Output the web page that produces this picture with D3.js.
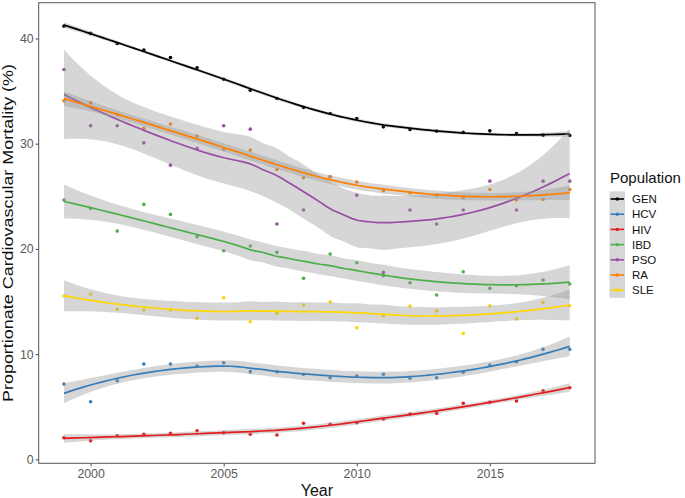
<!DOCTYPE html>
<html><head><meta charset="utf-8">
<script src="https://cdn.jsdelivr.net/npm/d3@7"></script>
<style>
body{margin:0;background:#fff;}
text{font-family:"Liberation Sans",Arial,Helvetica,sans-serif;}
</style>
</head><body>
<svg id="chart" width="685" height="498"></svg>
<script>
// ---------------- data ----------------
const years = [1999,2000,2001,2002,2003,2004,2005,2006,2007,2008,2009,2010,2011,2012,2013,2014,2015,2016,2017,2018];
const seriesNames  = ["GEN","HCV","HIV","IBD","PSO","RA","SLE"];
const seriesColors = ["#000000","#377EB8","#E41A1C","#4DAF4A","#984EA3","#FF7F00","#FFD700"];
const GEN = [41.17,40.48,39.52,38.89,38.19,37.21,36.13,35.09,34.30,33.44,32.87,32.40,31.60,31.35,31.19,31.07,31.22,30.97,30.81,30.78];
const HCV = [7.15,5.47,7.47,9.05,9.05,8.86,9.18,8.33,8.33,8.08,7.75,7.91,8.08,7.70,7.75,8.27,8.96,9.27,10.45,10.45];
const HIV = [2.05,1.77,2.24,2.38,2.47,2.72,2.53,2.38,2.31,3.42,3.33,3.48,3.83,4.30,4.37,5.32,5.42,5.54,6.52,6.80];
const IBD = [24.64,23.85,21.69,24.23,23.28,21.15,19.82,20.27,19.67,17.20,19.51,18.68,17.44,16.78,15.61,17.82,16.25,16.49,17.04,16.66];
const PSO = [37.05,31.70,31.70,30.08,27.96,29.55,31.70,31.38,22.36,23.69,26.85,25.11,17.77,23.69,22.36,23.69,26.44,23.69,26.44,26.44];
const RA  = [34.07,33.88,32.80,31.45,31.86,30.72,29.46,29.39,27.55,26.76,26.85,26.35,25.52,25.33,25.11,24.86,25.65,24.64,24.70,25.65];
const SLE = [15.52,15.71,14.25,14.19,14.19,13.40,15.35,13.07,13.87,14.66,14.97,12.50,13.62,14.57,14.09,11.97,14.59,13.33,14.92,14.59];
const seriesValues = [GEN,HCV,HIV,IBD,PSO,RA,SLE];
const xTicks = [2000,2005,2010,2015];
const yTicks = [0,10,20,30,40];
const xTitle = "Year";
const yTitle = "Proportionate Cardiovascular Mortality (%)";
const legendTitle = "Population";

// ---------------- loess (degree 2, span 0.75, like ggplot geom_smooth) ----------------
function inv3(m){
  const [a,b,c]=m[0],[d,e,f]=m[1],[g,h,i]=m[2];
  const A=e*i-f*h,B=-(d*i-f*g),C=d*h-e*g;
  const det=a*A+b*B+c*C;
  return [[A/det,-(b*i-c*h)/det,(b*f-c*e)/det],
          [B/det,(a*i-c*g)/det,-(a*f-c*d)/det],
          [C/det,-(a*h-b*g)/det,(a*e-b*d)/det]];
}
function loessRow(xs,x0,span){
  const n=xs.length,q=Math.floor(n*span);
  const d=xs.map(x=>Math.abs(x-x0));
  const h=d.slice().sort((a,b)=>a-b)[q-1];
  const w=d.map(v=>{const u=v/h;return u<1?Math.pow(1-u*u*u,3):0;});
  const A=[[0,0,0],[0,0,0],[0,0,0]];
  xs.forEach((x,k)=>{const t=x-x0,r=[1,t,t*t];
    for(let i=0;i<3;i++)for(let j=0;j<3;j++)A[i][j]+=w[k]*r[i]*r[j];});
  const Ai=inv3(A);
  return xs.map((x,k)=>{const t=x-x0;return w[k]*(Ai[0][0]+Ai[0][1]*t+Ai[0][2]*t*t);});
}
function qt975(df){
  const z=1.959963985,z3=z*z*z,z5=z3*z*z,z7=z5*z*z,z9=z7*z*z;
  return z+(z3+z)/4/df+(5*z5+16*z3+3*z)/96/(df*df)
    +(3*z7+19*z5+17*z3-15*z)/384/(df*df*df)
    +(79*z9+776*z7+1482*z5-1920*z3-945*z)/92160/(df*df*df*df);
}
function smooth(xs,ys,span){
  const n=xs.length;
  const L=xs.map(x0=>loessRow(xs,x0,span));
  const fit=L.map(r=>d3.sum(r,(v,k)=>v*ys[k]));
  const rss=d3.sum(ys,(y,k)=>(y-fit[k])**2);
  const IL=L.map((r,i)=>r.map((v,j)=>(i===j?1:0)-v));
  const M=[];
  for(let i=0;i<n;i++){M.push([]);for(let j=0;j<n;j++){let s=0;for(let k=0;k<n;k++)s+=IL[k][i]*IL[k][j];M[i].push(s);}}
  let d1=0,d2=0;
  for(let i=0;i<n;i++){d1+=M[i][i];for(let j=0;j<n;j++)d2+=M[i][j]*M[i][j];}
  const s=Math.sqrt(rss/d1),df=d1*d1/d2,tq=qt975(df);
  const grid=d3.range(80).map(i=>xs[0]+(xs[n-1]-xs[0])*i/79);
  return grid.map(x0=>{const r=loessRow(xs,x0,span);
    const f=d3.sum(r,(v,k)=>v*ys[k]);const se=s*Math.sqrt(d3.sum(r,v=>v*v));
    return {x:x0,y:f,lo:f-tq*se,hi:f+tq*se};});
}

// ---------------- layout ----------------
const svg=d3.select("#chart");
const P={l:38.7,r:595,t:2.7,b:463.3};
const x=d3.scaleLinear().domain([1999-0.95,2018+0.95]).range([P.l,P.r]);
const y=d3.scaleLinear().domain([-0.38,43.4]).range([P.b,P.t]);

const ribbonFill="#999999",ribbonOpacity=0.4;

// points
const gPts=svg.append("g");
seriesNames.forEach((name,si)=>{
  gPts.selectAll(null).data(seriesValues[si]).join("circle")
    .attr("cx",(v,i)=>x(years[i])).attr("cy",v=>y(v)).attr("r",1.8)
    .attr("fill",seriesColors[si]);
});
// smooths
const area=d3.area().x(d=>x(d.x)).y0(d=>y(d.lo)).y1(d=>y(d.hi));
const line=d3.line().x(d=>x(d.x)).y(d=>y(d.y));
seriesNames.forEach((name,si)=>{
  const sm=smooth(years,seriesValues[si],0.75);
  svg.append("path").attr("d",area(sm)).attr("fill",ribbonFill).attr("fill-opacity",ribbonOpacity);
  svg.append("path").attr("d",line(sm)).attr("fill","none").attr("stroke",seriesColors[si]).attr("stroke-width",1.7);
});

// panel border
svg.append("rect").attr("x",P.l).attr("y",P.t).attr("width",P.r-P.l).attr("height",P.b-P.t)
  .attr("fill","none").attr("stroke","#555").attr("stroke-width",1);

// axes
const ax=svg.append("g").attr("transform",`translate(0,${P.b})`)
  .call(d3.axisBottom(x).tickValues(xTicks).tickFormat(d3.format("d")).tickSize(3).tickPadding(3));
const ay=svg.append("g").attr("transform",`translate(${P.l},0)`)
  .call(d3.axisLeft(y).tickValues(yTicks).tickSize(3).tickPadding(2));
[ax,ay].forEach(g=>{g.select(".domain").remove();
  g.selectAll(".tick line").attr("stroke","#444");
  g.selectAll(".tick text").attr("fill","#595959").attr("font-size","12.3px")
    .attr("font-family","Liberation Sans, Arial, sans-serif");});

// titles
svg.append("text").attr("x",(P.l+P.r)/2).attr("y",495.5).attr("text-anchor","middle")
  .attr("font-size","16px").attr("fill","#111").text(xTitle);
svg.append("text").attr("transform",`translate(13,${(P.t+P.b)/2}) rotate(-90)`)
  .attr("text-anchor","middle").attr("font-size","15px").attr("fill","#111")
  .attr("textLength",338).attr("lengthAdjust","spacingAndGlyphs").text(yTitle);

// legend
const lg=svg.append("g");
lg.append("text").attr("x",610).attr("y",183).attr("font-size","15px").attr("fill","#111").text(legendTitle);
const k0=199,kh=15.2,kx=609.5,kw=15.5;
seriesNames.forEach((name,si)=>{
  const cy=k0+si*kh;
  lg.append("rect").attr("x",kx).attr("y",cy-kh/2).attr("width",kw).attr("height",kh)
    .attr("fill",ribbonFill).attr("fill-opacity",ribbonOpacity);
  lg.append("line").attr("x1",kx+1).attr("x2",kx+kw-1).attr("y1",cy).attr("y2",cy)
    .attr("stroke",seriesColors[si]).attr("stroke-width",1.6);
  lg.append("circle").attr("cx",kx+kw/2).attr("cy",cy).attr("r",1.7).attr("fill",seriesColors[si]);
  lg.append("text").attr("x",632).attr("y",cy+4.2).attr("font-size","11.5px").attr("fill","#111").text(name);
});
</script>
</body></html>
